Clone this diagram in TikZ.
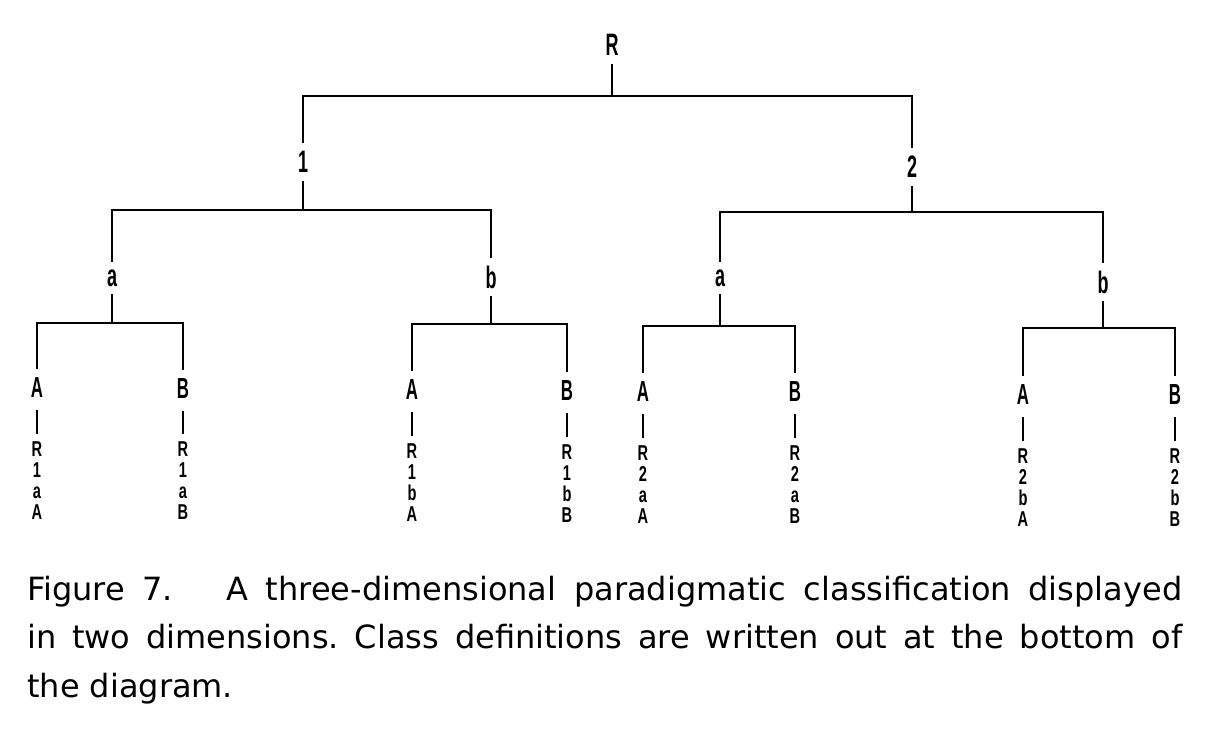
\documentclass[tikz,border=0pt]{standalone}
\usepackage{fontspec}
\setmainfont{Liberation Sans}
\newfontfamily\capfont{DejaVu Sans}
\frenchspacing
\newcommand\cnd[1]{\scalebox{0.58}[1]{#1}}
\newcommand\snd[1]{\scalebox{0.68}[1]{#1}}
\newcommand\stk[4]{\snd{#1}\\\snd{#2}\\\snd{#3}\\\snd{#4}}
\newcommand\capline[1]{\makebox[1155pt][s]{#1}}
\tikzset{
  lab/.style={font=\bfseries\fontsize{31}{31}\selectfont, inner sep=0pt, outer sep=8pt},
  leaf/.style={font=\bfseries\fontsize{29}{29}\selectfont, inner sep=0pt, outer sep=9pt},
  stack/.style={font=\bfseries\fontsize{21.5}{21}\selectfont, inner sep=0pt, outer sep=8pt, align=center, anchor=north},
  conn/.style={line width=2.7pt, line join=miter},
  tick/.style={line width=2.2pt, shorten <=3pt},
  captext/.style={font=\capfont\fontsize{32}{48}\selectfont, inner sep=0pt, anchor=base west}
}
\begin{document}
\begin{tikzpicture}[x=1pt,y=-1pt]
\useasboundingbox (0,0) rectangle (1217,735);
% level 0
\node[lab] (R) at (612,45) {\cnd{R}};
\coordinate (jR) at (612,96);
% level 1
\node[lab] (n1) at (303,162) {\cnd{1}};
\node[lab] (n2) at (912,167) {\cnd{2}};
\draw[conn] (R.south) -- (jR);
\draw[conn] (n1.north) -- (n1.north |- jR) -- (n2.north |- jR) -- (n2.north);
% level 2
\coordinate (j1) at (303,210);
\coordinate (j2) at (912,212);
\node[lab] (a1) at (112,278) {\cnd{a}};
\node[lab] (b1) at (491,277) {\cnd{b}};
\node[lab] (a2) at (720,278) {\cnd{a}};
\node[lab] (b2) at (1103,282) {\cnd{b}};
\draw[conn] (n1.south) -- (j1);
\draw[conn] (n2.south) -- (j2);
\draw[conn] (a1.north) -- (a1.north |- j1) -- (b1.north |- j1) -- (b1.north);
\draw[conn] (a2.north) -- (a2.north |- j2) -- (b2.north |- j2) -- (b2.north);
% level 3
\coordinate (ja1) at (112,323);
\coordinate (jb1) at (491,324);
\coordinate (ja2) at (720,326);
\coordinate (jb2) at (1103,328);
\node[leaf] (A11) at (37,388) {\cnd{A}};
\node[leaf] (B11) at (183,389) {\cnd{B}};
\node[leaf] (A12) at (412,390) {\cnd{A}};
\node[leaf] (B12) at (567,391) {\cnd{B}};
\node[leaf] (A21) at (643,392) {\cnd{A}};
\node[leaf] (B21) at (795,392) {\cnd{B}};
\node[leaf] (A22) at (1023,395) {\cnd{A}};
\node[leaf] (B22) at (1175,395) {\cnd{B}};
\draw[conn] (a1.south) -- (ja1);
\draw[conn] (b1.south) -- (jb1);
\draw[conn] (a2.south) -- (ja2);
\draw[conn] (b2.south) -- (jb2);
\draw[conn] (A11.north) -- (A11.north |- ja1) -- (B11.north |- ja1) -- (B11.north);
\draw[conn] (A12.north) -- (A12.north |- jb1) -- (B12.north |- jb1) -- (B12.north);
\draw[conn] (A21.north) -- (A21.north |- ja2) -- (B21.north |- ja2) -- (B21.north);
\draw[conn] (A22.north) -- (A22.north |- jb2) -- (B22.north |- jb2) -- (B22.north);
% class definitions
\node[stack] (s11) at (37,434) {\stk{R}{1}{a}{A}};
\node[stack] (s12) at (183,434) {\stk{R}{1}{a}{B}};
\node[stack] (s13) at (412,436) {\stk{R}{1}{b}{A}};
\node[stack] (s14) at (567,437) {\stk{R}{1}{b}{B}};
\node[stack] (s21) at (643,438) {\stk{R}{2}{a}{A}};
\node[stack] (s22) at (795,438) {\stk{R}{2}{a}{B}};
\node[stack] (s23) at (1023,441) {\stk{R}{2}{b}{A}};
\node[stack] (s24) at (1175,441) {\stk{R}{2}{b}{B}};
\foreach \l/\s in {A11/s11,B11/s12,A12/s13,B12/s14,A21/s21,B21/s22,A22/s23,B22/s24}
  \draw[tick] (\l.south) -- (\s.north);
% caption
\node[captext] (c1) at (27,600) {\capline{Figure 7.\ \ \ A three-dimensional paradigmatic classification displayed}};
\node[captext] (c2) at (27,648) {\capline{in two dimensions. Class definitions are written out at the bottom of}};
\node[captext] (c3) at (27,697) {the diagram.};
\end{tikzpicture}
\end{document}
